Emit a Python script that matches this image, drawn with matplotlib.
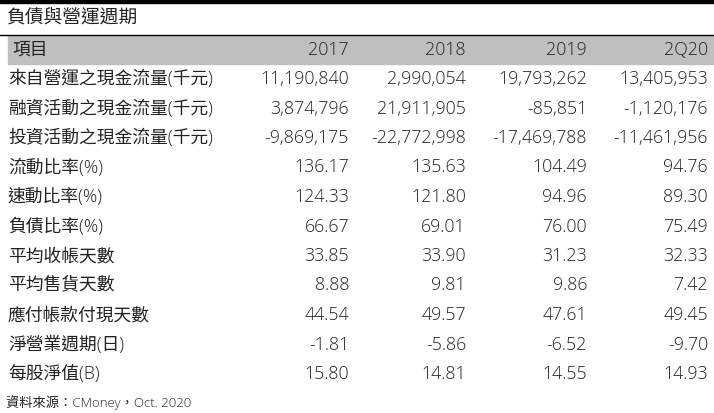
import matplotlib
matplotlib.use("Agg")
import matplotlib.pyplot as plt
from matplotlib.patches import Rectangle

plt.rcParams["font.family"] = ["Open Sans", "Noto Sans CJK TC"]

title = "負債與營運週期"
columns = ["項目", "2017", "2018", "2019", "2Q20"]
items = ["來自營運之現金流量(千元)", "融資活動之現金流量(千元)", "投資活動之現金流量(千元)",
         "流動比率(%)", "速動比率(%)", "負債比率(%)", "平均收帳天數", "平均售貨天數",
         "應付帳款付現天數", "淨營業週期(日)", "每股淨值(B)"]
v2017 = ["11,190,840", "3,874,796", "-9,869,175", "136.17", "124.33", "66.67",
         "33.85", "8.88", "44.54", "-1.81", "15.80"]
v2018 = ["2,990,054", "21,911,905", "-22,772,998", "135.63", "121.80", "69.01",
         "33.90", "9.81", "49.57", "-5.86", "14.81"]
v2019 = ["19,793,262", "-85,851", "-17,469,788", "104.49", "94.96", "76.00",
         "31.23", "9.86", "47.61", "-6.52", "14.55"]
v2q20 = ["13,405,953", "-1,120,176", "-11,461,956", "94.76", "89.30", "75.49",
         "32.33", "7.42", "49.45", "-9.70", "14.93"]
source = "資料來源：CMoney，Oct. 2020"

W, H = 714, 413
fig = plt.figure(figsize=(W / 100, H / 100), dpi=100)
ax = fig.add_axes([0, 0, 1, 1])
ax.set_xlim(0, W)
ax.set_ylim(H, 0)
ax.axis("off")

# frame lines and header band
ax.add_patch(Rectangle((0, 0), W, 3, color="black"))
ax.plot([0, W], [35, 35], color="black", lw=1)
ax.add_patch(Rectangle((8, 36), W - 8, 28, color="#bfbfbf"))

ax.text(6, 18, title, fontsize=13.5, va="center", ha="left", color="#222222",
        fontweight="light")

col_x = [12, 349, 466, 587, 708]
fs = 12.8
for i, c in enumerate(columns):
    ax.text(col_x[i], 50, c, fontsize=fs, va="center", fontweight="light",
            ha="left" if i == 0 else "right", color="#222222")

y0, dy = 79, 29.5
for r, name in enumerate(items):
    y = y0 + r * dy
    row = [name, v2017[r], v2018[r], v2019[r], v2q20[r]]
    for i, s in enumerate(row):
        ax.text(col_x[i] if i else 8, y, s, fontsize=fs, va="center", fontweight="light",
                ha="left" if i == 0 else "right", color="#222222")

ax.text(6, 403, source, fontsize=9.5, va="center", ha="left", color="#222222",
        fontweight="light")

fig.savefig("out.png", dpi=100)
